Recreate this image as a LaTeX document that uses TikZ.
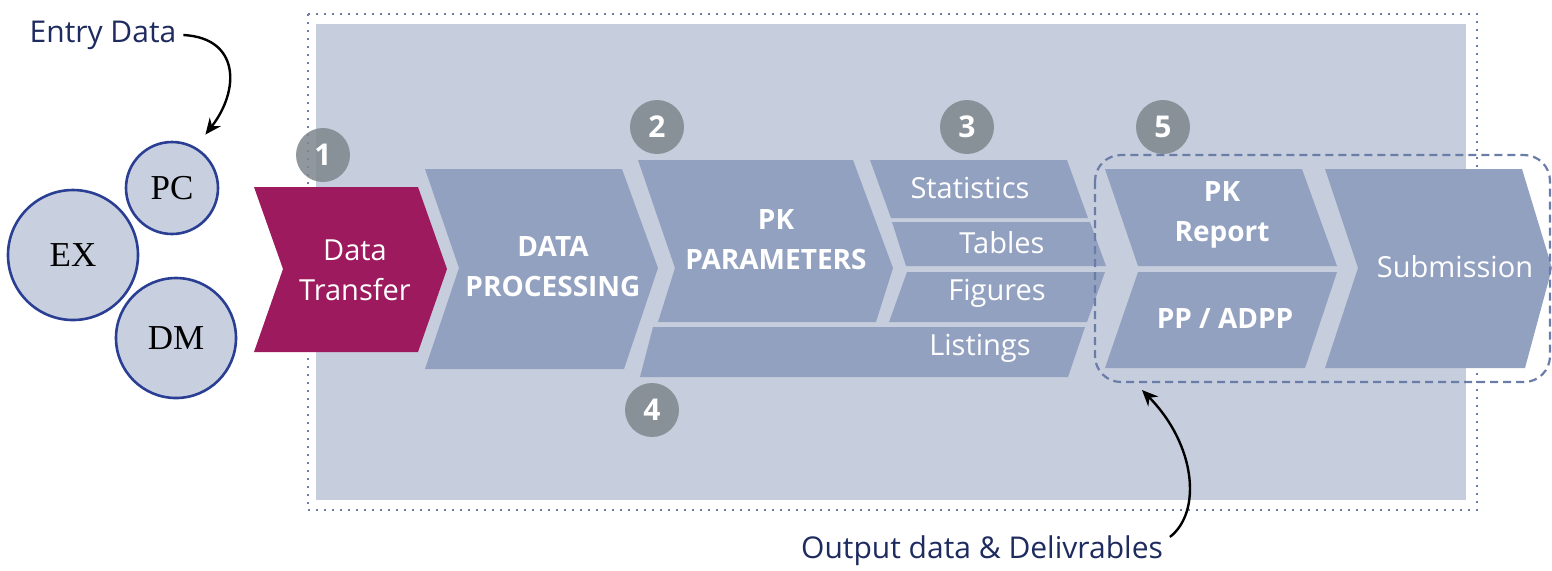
\documentclass[tikz,border=0pt]{standalone}
\usepackage{fontspec}
\setmainfont{Open Sans}
\newfontfamily\circfont{Liberation Serif}
\usepackage{xcolor}
\usetikzlibrary{arrows.meta}

\definecolor{panelgray}{HTML}{C6CDDD}
\definecolor{chevblue}{HTML}{93A1C1}
\definecolor{transfermag}{HTML}{9E1A5E}
\definecolor{numgray}{HTML}{7E868C}
\definecolor{circfill}{HTML}{C8D0E0}
\definecolor{circblue}{HTML}{2A3F94}
\definecolor{framecol}{HTML}{6A7CA8}
\definecolor{navytext}{HTML}{1E2B5E}

\tikzset{
  chev/.style={fill=chevblue},
  chevtxt/.style={text=white, align=center, font=\fontsize{14.5}{20}\selectfont},
  chevbold/.style={chevtxt, font=\fontsize{14}{20}\selectfont\bfseries},
  numcirc/.style={circle, fill=numgray, fill opacity=0.85, text opacity=1,
    text=white, minimum size=27pt, inner sep=0pt, font=\fontsize{15}{18}\selectfont\bfseries},
  srccirc/.style={circle, draw=circblue, line width=1.3pt, fill=circfill, inner sep=0pt,
    font=\circfont\fontsize{17.5}{20}\selectfont},
  note/.style={text=navytext, font=\fontsize{15}{18}\selectfont},
  callout/.style={line width=1.2pt, -{Stealth[length=8pt,width=7pt]}}
}

\begin{document}
\begin{tikzpicture}[x=0.5pt,y=-0.5pt]
    \useasboundingbox (0,0) rectangle (1552,570);
    % Process panel
    % Gray background box and dotted frame
    \fill [panelgray] (316,24) rectangle (1466,500);
    \draw [framecol, line width=1.1pt, dash pattern=on 1pt off 3pt] (308,14) rectangle (1477,510);

    % Step 1: transfer
    \fill [transfermag] (254,187) -- (418,187) -- (447,269) -- (418,352) -- (254,352) -- (283,269) -- cycle;
    % Step 2: processing
    \fill [chev] (425,169) -- (622,169) -- (658,268) -- (624,369) -- (425,369) -- (459,268) -- cycle;
    % PK parameters and listings
    \fill [chev] (638,160) -- (853,160) -- (893,268) -- (876,322) -- (658,322) -- (675,268) -- cycle;
    \fill [chev] (653,327) -- (1085,327) -- (1068,377) -- (640,377) -- cycle;
    % Step 3: outputs
    \fill [chev] (870,160) -- (1067,160) -- (1088,218) -- (891,218) -- cycle;
    \fill [chev] (892,222) -- (1090,222) -- (1106,266) -- (906,266) -- cycle;
    \fill [chev] (907,272) -- (1105,272) -- (1087,322) -- (889,322) -- cycle;
    % Step 5: deliverables
    \fill [chev] (1105,169) -- (1302,169) -- (1337,266) -- (1138,266) -- cycle;
    \fill [chev] (1138,272) -- (1337,272) -- (1305,368) -- (1105,368) -- cycle;
    \fill [chev] (1325,169) -- (1522,169) -- (1552,268) -- (1525,368) -- (1325,368) -- (1358,268) -- cycle;
    % Dashed group round the deliverables
    \draw [framecol, line width=1.1pt, dash pattern=on 4pt off 2.5pt, rounded corners=13pt] (1095,155) rectangle (1550,382);

    % Labels of the steps
    \node[chevtxt] (transfer) at (355,270) {Data\\Transfer};
    \node[chevbold] (proc) at (553,267) {DATA\\PROCESSING};
    \node[chevbold] (param) at (776,240) {PK\\PARAMETERS};
    \node[chevtxt] (stats) at (970,188) {Statistics};
    \node[chevtxt] (tables) at (1002,243) {Tables};
    \node[chevtxt] (figs) at (997,293) {Figures};
    \node[chevtxt] (lists) at (980,348) {Listings};
    \node[chevbold] (report) at (1222,215) {PK\\Report};
    \node[chevbold] (adpp) at (1225,318) {PP / ADPP};
    \node[chevtxt] (subm) at (1455,267) {Submission};

    % Step numbers
    \node[numcirc] (n1) at (323,155) {1};
    \node[numcirc] (n2) at (657,127) {2};
    \node[numcirc] (n3) at (967,127) {3};
    \node[numcirc] (n4) at (652,410) {4};
    \node[numcirc] (n5) at (1163,127) {5};

    % Sources
    \node[srccirc, minimum size=46pt] (pc) at (172,188) {PC};
    \node[srccirc, minimum size=65pt] (ex) at (73,255) {EX};
    \node[srccirc, minimum size=60pt] (dm) at (176,338) {DM};

    % Callouts
    \node[note] (entry) at (103,35) {Entry Data};
    \node[note] (outdel) at (982,551) {Output data \& Delivrables};
    \coordinate (delivtip) at (1142,390);
    \draw[callout] (entry.east) .. controls (240,38) and (240,90) .. ([yshift=10pt]pc.north east);
    \draw[callout] ([yshift=-4pt]outdel.north east) .. controls (1202,512) and (1196,445) .. (delivtip);
\end{tikzpicture}
\end{document}
